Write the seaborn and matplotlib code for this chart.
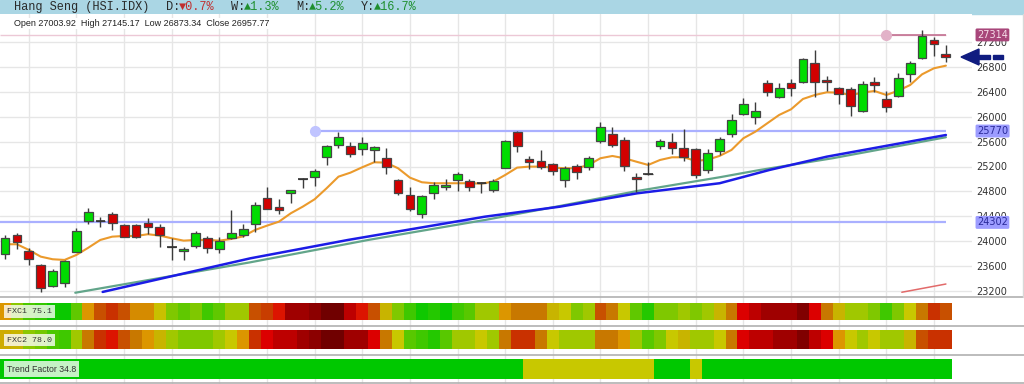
import numpy as np
import pandas as pd
import matplotlib
matplotlib.use("Agg")
import matplotlib.pyplot as plt
import seaborn as sns
from matplotlib.colors import LinearSegmentedColormap
from matplotlib.patches import Rectangle, Polygon
from matplotlib.lines import Line2D

# ---------------- data ----------------
opens = [23795, 24100, 23848, 23619, 23286, 23334, 23832, 24330, 24330, 24438,
         24261, 24261, 24298, 24224, 23912, 23838, 23924, 24047, 23871, 24047,
         24100, 24277, 24700, 24550, 24770, 24995, 25027, 25358, 25541, 25530,
         25477, 25461, 25333, 24984, 24743, 24438, 24770, 24866, 24984, 24968,
         24930, 24823, 25182, 25759, 25321, 25289, 25236, 24984, 25213, 25198,
         25615, 25722, 25626, 25037, 25086, 25530, 25594, 25493, 25482, 25145,
         25450, 25718, 26044, 26000, 26546, 26322, 26546, 26562, 26868, 26590,
         26466, 26440, 26092, 26553, 26280, 26333, 26686, 26938, 27232, 27003.92]
highs = [24100, 24128, 23887, 23635, 23550, 23699, 24217, 24529, 24394, 24470,
         24277, 24277, 24368, 24277, 24047, 23912, 24159, 24084, 24073, 24502,
         24277, 24635, 24876, 24674, 24830, 25011, 25156, 25546, 25759, 25599,
         25669, 25530, 25493, 24995, 24863, 24743, 24956, 24995, 25118, 24995,
         24956, 25005, 25625, 25775, 25369, 25466, 25250, 25209, 25241, 25370,
         25920, 25830, 25669, 25091, 25278, 25637, 25743, 25803, 25500, 25477,
         25679, 26039, 26296, 26241, 26590, 26546, 26601, 26938, 27072, 26654,
         26483, 26482, 26574, 26643, 26413, 26697, 26900, 27393, 27275, 27145.17]
lows = [23710, 23871, 23619, 23179, 23270, 23260, 23820, 24277, 24224, 24181,
        24063, 24047, 24116, 23912, 23699, 23699, 23887, 23807, 23807, 24040,
        24063, 24153, 24510, 24438, 24619, 24850, 24887, 25225, 25493, 25358,
        25385, 25277, 25076, 24743, 24491, 24368, 24678, 24823, 24812, 24812,
        24770, 24796, 25172, 25438, 25156, 25156, 25064, 24876, 24995, 25145,
        25582, 25519, 25133, 24796, 25060, 25477, 25401, 25294, 25011, 25091,
        25385, 25679, 26028, 25883, 26333, 26296, 26333, 26546, 26322, 26418,
        26204, 26012, 26071, 26402, 26081, 26322, 26562, 26922, 26980, 26873.34]
closes = [24047, 23983, 23710, 23244, 23522, 23683, 24169, 24470, 24330, 24298,
          24073, 24073, 24234, 24100, 23912, 23880, 24137, 23896, 24009, 24137,
          24192, 24582, 24518, 24507, 24823, 24995, 25123, 25530, 25669, 25406,
          25573, 25519, 25188, 24770, 24518, 24727, 24899, 24903, 25076, 24866,
          24930, 24968, 25615, 25535, 25278, 25198, 25133, 25172, 25117, 25333,
          25830, 25541, 25209, 25005, 25086, 25615, 25503, 25358, 25064, 25413,
          25637, 25947, 26204, 26092, 26402, 26456, 26456, 26922, 26553, 26562,
          26365, 26172, 26521, 26514, 26151, 26627, 26858, 27301, 27163, 26957.77]

# short moving average (orange), read per candle
ma_short = [23951, 23951, 23860, 23752, 23710, 23699, 23780, 23896, 24020, 24073,
            24084, 24084, 24112, 24090, 24047, 24009, 24020, 24020, 24009, 24036,
            24078, 24181, 24250, 24314, 24449, 24555, 24674, 24850, 25037, 25101,
            25188, 25268, 25262, 25172, 25021, 24947, 24931, 24931, 24931, 24931,
            24925, 24957, 25064, 25182, 25198, 25198, 25182, 25172, 25172, 25225,
            25333, 25369, 25333, 25278, 25225, 25305, 25348, 25348, 25289, 25310,
            25370, 25466, 25654, 25759, 25894, 26028, 26119, 26285, 26349, 26392,
            26386, 26349, 26386, 26413, 26349, 26418, 26509, 26681, 26778, 26820]

# long moving averages, read at sample positions (candle index, value)
ma_blue_idx = [8.2, 20.6, 28.8, 40.3, 46.6, 53.1, 60.0, 64.2, 69.0, 79.0]
ma_blue_val = [23185, 23725, 24020, 24394, 24555, 24770, 24931, 25145, 25358, 25706]
ma_green_idx = [5.9, 20.6, 30.5, 40.3, 46.6, 53.1, 60.0, 63.4, 69.5, 79.0]
ma_green_val = [23172, 23661, 24020, 24341, 24566, 24807, 25027, 25145, 25333, 25670]
ma_red_idx = [75.3, 79.0]
ma_red_val = [23180, 23312]

levels = [27314, 25770, 24302]
yticks = [23200, 23600, 24000, 24400, 24800, 25200, 25600, 26000, 26400, 26800, 27200]

fxc1 = [55, 30, 15, 10, 3, 2, 20, 55, 67, 72, 67, 57, 57, 42, 28, 20, 28, 12, 20, 33,
        33, 67, 70, 78, 88, 88, 92, 100, 100, 84, 78, 67, 45, 28, 12, 3, 7, 2, 12, 18,
        33, 33, 55, 60, 60, 60, 45, 40, 28, 33, 67, 60, 40, 20, 7, 28, 28, 33, 28, 33,
        45, 60, 80, 84, 88, 88, 88, 96, 80, 60, 45, 33, 33, 28, 12, 28, 40, 60, 72, 67]
fxc2 = [48, 45, 30, 25, 15, 12, 33, 60, 72, 78, 67, 60, 55, 45, 33, 28, 28, 28, 33, 40,
        55, 72, 80, 84, 84, 88, 92, 100, 100, 88, 88, 80, 60, 40, 18, 12, 7, 18, 33, 33,
        40, 33, 60, 72, 72, 60, 40, 33, 33, 33, 60, 60, 55, 33, 18, 28, 40, 45, 33, 33,
        40, 60, 80, 84, 84, 88, 88, 96, 84, 80, 55, 40, 33, 40, 33, 33, 45, 67, 72, 72]
trend = [0, 0, 0, 0, 0, 0, 0, 0, 0, 0, 0, 0, 0, 0, 0, 0, 0, 0, 0, 0,
         0, 0, 0, 0, 0, 0, 0, 0, 0, 0, 0, 0, 0, 0, 0, 0, 0, 0, 0, 0,
         0, 0, 0, 0, 40, 40, 40, 40, 40, 40, 40, 40, 40, 40, 40, 0, 0, 0, 40, 0,
         0, 0, 0, 0, 0, 0, 0, 0, 0, 0, 0, 0, 0, 0, 0, 0, 0, 0, 0, 0]
row_labels = ["FXC1 75.1", "FXC2 78.0", "Trend Factor 34.8"]

# ---------------- style ----------------
sns.set_style("whitegrid", {"grid.color": "#e6e6e6", "axes.edgecolor": "white"})
plt.rcParams['font.family'] = ['DejaVu Sans']
MONO = ['Liberation Mono', 'DejaVu Sans Mono']
SANS = ['Liberation Sans', 'DejaVu Sans']

W, H = 1024, 384
fig = plt.figure(figsize=(W / 100, H / 100), dpi=100)


def fx(px):
    return px / W


def fy(py):
    return 1 - py / H


STEP = 11.91
X0 = 5.0
xlim = (-X0 / STEP, (972 - X0) / STEP)


def price_at(py):
    return 27200 - (py - 42) * (4000 / 249)


# ---------------- main price axes ----------------
ax = fig.add_axes([0, fy(296), fx(972), fy(14) - fy(296)])
ax.set_xlim(*xlim)
ax.set_ylim(price_at(296), price_at(14))
ax.set_yticks(yticks)
ax.set_yticklabels([str(v) for v in yticks])
ax.yaxis.tick_right()
ax.tick_params(axis='y', length=0, pad=3, labelsize=7, labelcolor='#333333')
ax.set_xticks(list(range(2, 80, 4)))
ax.set_xticklabels([])
ax.tick_params(axis='x', length=0)
ax.grid(True, color='#e6e6e6', lw=1)
for s in ax.spines.values():
    s.set_visible(False)

idx = np.arange(len(closes))
o = np.array(opens); c = np.array(closes); hi = np.array(highs); lo = np.array(lows)

# level lines
ax.hlines(levels[0], xlim[0], 79, color='#ecc8d6', lw=1, zorder=1)
ax.hlines(levels[0], 74, 79, color='#c27091', lw=1.2, zorder=1)
ax.plot([74], [levels[0]], 'o', ms=7, color='#e2b2c8', zorder=2)
ax.hlines(levels[1], 26, 79, color='#aab0ff', lw=1.6, zorder=1)
ax.plot([26], [levels[1]], 'o', ms=7, color='#c0c4ff', zorder=2)
ax.hlines(levels[2], xlim[0], 79, color='#aab0ff', lw=1.6, zorder=1)

# moving averages via seaborn
df_short = pd.DataFrame({"i": idx, "v": ma_short})
sns.lineplot(data=df_short, x="i", y="v", ax=ax, color='#eb9a2c', lw=1.5, zorder=5,
             estimator=None, sort=False)
sns.lineplot(x=ma_green_idx, y=ma_green_val, ax=ax, color='#62a58a', lw=1.6, zorder=3,
             estimator=None, sort=False)
sns.lineplot(x=ma_blue_idx, y=ma_blue_val, ax=ax, color='#1c1ce6', lw=1.8, zorder=3,
             estimator=None, sort=False)
sns.lineplot(x=ma_red_idx, y=ma_red_val, ax=ax, color='#e26a6a', lw=1.1, zorder=3,
             estimator=None, sort=False)
ax.set_xlabel(""); ax.set_ylabel("")

# candles
ax.vlines(idx, lo, hi, color='#3c3c3c', lw=1, zorder=6)
up = c >= o
body_bot = np.minimum(o, c)
body_h = np.abs(c - o)
ax.bar(idx, body_h, bottom=body_bot, width=0.74,
       color=np.where(up, '#00dc00', '#d20000'), edgecolor='#454545', linewidth=0.9, zorder=7)
doji = body_h < 12
ax.hlines(c[doji], idx[doji] - 0.4, idx[doji] + 0.4, color='#333333', lw=1.2, zorder=8)

# boxed level labels on the right
ax.text(977 / 972, levels[0], str(levels[0]), transform=ax.get_yaxis_transform(),
        ha='left', va='center', fontsize=7, color='#f6dde9', clip_on=False, zorder=10,
        bbox=dict(boxstyle='round,pad=0.15', fc='#a8467a', ec='none'))
for lv in levels[1:]:
    ax.text(977 / 972, lv, str(lv), transform=ax.get_yaxis_transform(),
            ha='left', va='center', fontsize=7, color='#2a2a9a', clip_on=False, zorder=10,
            bbox=dict(boxstyle='round,pad=0.15', fc='#9c9cff', ec='none'))

# ---------------- indicator rows ----------------
cmap = LinearSegmentedColormap.from_list("fxc", [
    (0.00, '#00c800'), (0.12, '#40c800'), (0.20, '#60c800'), (0.28, '#80c800'),
    (0.33, '#a0c800'), (0.40, '#c8c800'), (0.45, '#c8b400'), (0.55, '#dc9600'),
    (0.60, '#c87800'), (0.67, '#c85000'), (0.72, '#c83200'), (0.78, '#dc1400'),
    (0.80, '#dc0000'), (0.84, '#c00000'), (0.88, '#a00000'), (0.92, '#8c0000'),
    (0.96, '#800000'), (1.00, '#700000')])

# background grid for indicator area
axb = fig.add_axes([0, 0, fx(972), fy(296)])
axb.set_xlim(*xlim)
axb.set_ylim(0, 1)
axb.set_xticks(list(range(2, 80, 4)))
axb.set_yticks([])
axb.set_xticklabels([])
axb.tick_params(length=0)
axb.grid(True, axis='x', color='#e6e6e6', lw=1)
for s in axb.spines.values():
    s.set_visible(False)

rows = [(fxc1, 302.7, 320.0, 311.5, MONO, 6.0),
        (fxc2, 330.0, 349.3, 340.0, MONO, 6.0),
        (trend, 359.3, 378.7, 369.0, SANS, 6.3)]
for (vals, top, bot, ymid, fam, fs), lab in zip(rows, row_labels):
    axi = fig.add_axes([0, fy(bot), fx(972), fy(top) - fy(bot)])
    sns.heatmap(np.array([vals]), ax=axi, cmap=cmap, vmin=0, vmax=100, cbar=False,
                xticklabels=False, yticklabels=False)
    axi.set_xlim(xlim[0] + 0.5, xlim[1] + 0.5)
    axi.set_facecolor('white')
    fig.text(fx(7), fy(ymid), lab, family=fam, fontsize=fs, color='#333333',
             ha='left', va='center',
             bbox=dict(boxstyle='square,pad=0.35', fc='white', alpha=0.78, ec='none'))

# separator lines
for yy in (297, 325.5, 354.5, 383):
    fig.add_artist(Line2D([0, 1], [fy(yy), fy(yy)], transform=fig.transFigure,
                          color='#b0b0b0', lw=1.2))
fig.add_artist(Line2D([fx(1022.5), fx(1022.5)], [fy(14), fy(297)], transform=fig.transFigure,
                      color='#d8d8d8', lw=1))

# ---------------- header ----------------
fig.add_artist(Rectangle((0, fy(13.5)), 1, 13.5 / H, transform=fig.transFigure,
                         color='#aad6e4', zorder=0))
hdr = [(14, "Hang Seng (HSI.IDX)", '#2a2a2a'),
       (166, "D:", '#2a2a2a'), (179, "▼0.7%", '#c03030'),
       (231, "W:", '#2a2a2a'), (244, "▲1.3%", '#1f8f2f'),
       (296, "M:", '#2a2a2a'), (309, "▲5.2%", '#1f8f2f'),
       (361, "Y:", '#2a2a2a'), (374, "▲16.7%", '#1f8f2f')]
for px, txt, col in hdr:
    fig.text(fx(px), fy(7.2), txt, family=MONO, fontsize=8.6, color=col,
             ha='left', va='center')

fig.text(fx(14), fy(23.5), "Open 27003.92  High 27145.17  Low 26873.34  Close 26957.77",
         family=SANS, fontsize=6.5, color='#222222', ha='left', va='center',
         bbox=dict(boxstyle='square,pad=0.1', fc='white', ec='none'))

# arrow at last close
fig.add_artist(Polygon([(fx(961), fy(57)), (fx(979), fy(49)), (fx(979), fy(65))],
                       closed=True, transform=fig.transFigure, color='#101c80'))
fig.add_artist(Rectangle((fx(979), fy(59.3)), fx(11), 4.6 / H, transform=fig.transFigure,
                         color='#101c80'))
fig.add_artist(Rectangle((fx(993), fy(59.3)), fx(10), 4.6 / H, transform=fig.transFigure,
                         color='#101c80'))

fig.savefig("out.png", dpi=100)
